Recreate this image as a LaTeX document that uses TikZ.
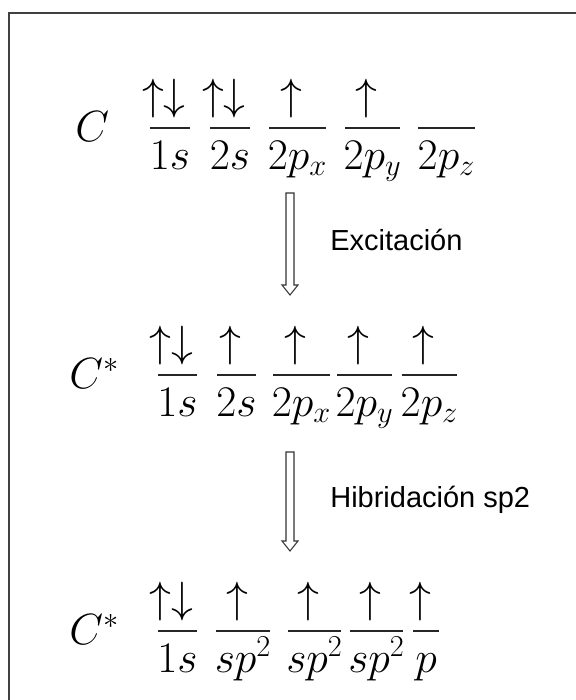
\documentclass[tikz,border=0pt]{standalone}
\usepackage{amsmath}
\usepackage{fontspec}
\newfontfamily\arialfont{Liberation Sans}
\usepackage{tikz}
\usetikzlibrary{calc, positioning}

\begin{document}
\begin{tikzpicture}[
    x=0.02cm, y=-0.02cm,
    atom/.style={
        anchor=base west,
        inner sep=0pt,
        font=\fontsize{23.5}{28}\selectfont
    },
    spin/.style={
        anchor=south,
        inner sep=0pt,
        font=\fontsize{23.5}{28}\selectfont
    },
    orblabel/.style={
        anchor=base,
        inner sep=0pt,
        font=\fontsize{23.5}{28}\selectfont
    },
    level/.style={
        line width=1.3pt,
        color=black!85
    },
    hollow/.style={
        draw=black!80,
        fill=white,
        line width=0.6pt,
        line join=miter
    },
    note/.style={
        anchor=west,
        inner sep=0pt,
        font=\arialfont\fontsize{16.5}{20}\selectfont
    }
]
\useasboundingbox (0,0) rectangle (575,700);

% frame (runs off the right and bottom edges)
\draw[line width=1.2pt, black!75] (9,13) rectangle (640,780);

% row 1: ground state
\node[atom] (C1) at (75,141) {$C$};
\foreach \n/\xa/\xb/\sp/\lab in {a/150/190/\uparrow\downarrow/1s, b/210/250/\uparrow\downarrow/2s, c/269/326/\uparrow/2p_x, d/345/400/\uparrow/2p_y, e/418/475//2p_z} {
    \coordinate (r1\n w) at (\xa,128);
    \coordinate (r1\n e) at (\xb,128);
    \draw[level] (r1\n w) -- (r1\n e);
    \node[spin] (s1\n) at ($(r1\n w)!0.5!(r1\n e)+(0,-10)$) {$\sp{}$};
    \node[orblabel] (l1\n) at ($(r1\n w)!0.5!(r1\n e)+(0,41)$) {$\lab$};
}

% row 2: excited state
\node[atom] (C2) at (69,388) {$C^*$};
\foreach \n/\xa/\xb/\sp/\lab in {a/158/197/\uparrow\downarrow/1s, b/217/256/\uparrow/2s, c/273/330/\uparrow/2p_x, d/337/392/\uparrow/2p_y, e/402/457/\uparrow/2p_z} {
    \coordinate (r2\n w) at (\xa,375);
    \coordinate (r2\n e) at (\xb,375);
    \draw[level] (r2\n w) -- (r2\n e);
    \node[spin] (s2\n) at ($(r2\n w)!0.5!(r2\n e)+(0,-10)$) {$\sp{}$};
    \node[orblabel] (l2\n) at ($(r2\n w)!0.5!(r2\n e)+(0,41)$) {$\lab$};
}

% row 3: sp2 hybrid
\node[atom] (C3) at (69,644) {$C^*$};
\foreach \n/\xa/\xb/\sp/\lab in {a/158/197/\uparrow\downarrow/1s, b/216/270/\uparrow/sp^2, c/288/341/\uparrow/sp^2, d/350/403/\uparrow/sp^2, e/413/439/\uparrow/p} {
    \coordinate (r3\n w) at (\xa,631);
    \coordinate (r3\n e) at (\xb,631);
    \draw[level] (r3\n w) -- (r3\n e);
    \node[spin] (s3\n) at ($(r3\n w)!0.5!(r3\n e)+(0,-10)$) {$\sp{}$};
    \node[orblabel] (l3\n) at ($(r3\n w)!0.5!(r3\n e)+(0,41)$) {$\lab$};
}

% open arrows between the rows
\coordinate (ex1) at (290,193);
\coordinate (ex2) at (290,295);
\coordinate (hy1) at (290,452);
\coordinate (hy2) at (290,551);
\foreach \a/\b in {ex1/ex2, hy1/hy2} {
    \draw[hollow] ($(\a)+(-4,0)$) -- ($(\b)+(-4,-10)$) -- ($(\b)+(-8,-10)$) -- (\b)
        -- ($(\b)+(8,-10)$) -- ($(\b)+(4,-10)$) -- ($(\a)+(4,0)$) -- cycle;
}
\node[note] (exc) at ($(ex1)!0.5!(ex2)+(40,-4)$) {Excitación};
\node[note] (hyb) at ($(hy1)!0.5!(hy2)+(40,-2)$) {Hibridación sp2};

\end{tikzpicture}
\end{document}
